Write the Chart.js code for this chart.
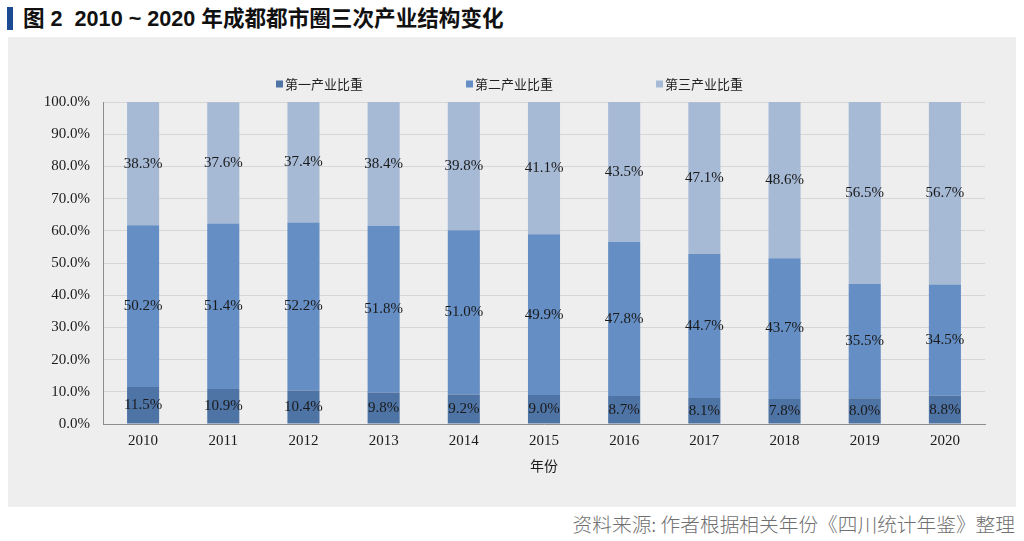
<!DOCTYPE html>
<html>
<head>
<meta charset="utf-8">
<script src="https://cdn.jsdelivr.net/npm/chart.js@4.4.1/dist/chart.umd.min.js"></script>
<style>
  html, body { margin: 0; padding: 0; background: #ffffff; width: 1024px; height: 541px; overflow: hidden; }
  #title { position: absolute; left: 23px; top: 4px; font-family: "Liberation Sans", "Noto Sans CJK SC", sans-serif; font-weight: bold; font-size: 21.6px; color: #111; line-height: 30px; white-space: pre; }
  #bar { position: absolute; left: 7px; top: 7px; width: 6px; height: 23px; background: #1c4b94; }
  #panel { position: absolute; left: 8px; top: 37px; width: 1008px; height: 470px; background: #eeeeee; }
  #source { position: absolute; right: 9px; top: 510px; font-family: "Noto Sans CJK SC", sans-serif; font-size: 19.7px; color: #707070; font-weight: 300; line-height: 27px; white-space: pre; }
</style>
</head>
<body>
<div id="bar"></div>
<div id="title">图 2  2010 ~ 2020 年成都都市圈三次产业结构变化</div>
<div id="panel"><canvas id="c" width="1008" height="470"></canvas></div>
<div id="source">资料来源: 作者根据相关年份《四川统计年鉴》整理</div>
<script>
const categories = ['2010','2011','2012','2013','2014','2015','2016','2017','2018','2019','2020'];
const primary   = [11.5, 10.9, 10.4, 9.8, 9.2, 9.0, 8.7, 8.1, 7.8, 8.0, 8.8];
const secondary = [50.2, 51.4, 52.2, 51.8, 51.0, 49.9, 47.8, 44.7, 43.7, 35.5, 34.5];
const tertiary  = [38.3, 37.6, 37.4, 38.4, 39.8, 41.1, 43.5, 47.1, 48.6, 56.5, 56.7];
const seriesNames = ['第一产业比重', '第二产业比重', '第三产业比重'];
const xTitle = '年份';

const serif = '"Liberation Serif", "Noto Sans CJK SC", serif';
const cjk = '"Noto Sans CJK SC", sans-serif';

const valueLabels = {
  id: 'valueLabels',
  afterDatasetsDraw(chart) {
    const ctx = chart.ctx;
    ctx.save();
    ctx.font = '15px ' + serif;
    ctx.fillStyle = '#1a1a1a';
    ctx.textAlign = 'center';
    ctx.textBaseline = 'middle';
    chart.data.datasets.forEach((ds, i) => {
      const meta = chart.getDatasetMeta(i);
      meta.data.forEach((el, j) => {
        const y = (el.y + el.base) / 2;
        ctx.fillText(ds.data[j].toFixed(1) + '%', el.x, y);
      });
    });
    ctx.restore();
  }
};

const customLegend = {
  id: 'customLegend',
  afterDraw(chart) {
    const ctx = chart.ctx;
    ctx.save();
    ctx.font = '13px ' + cjk;
    ctx.textBaseline = 'middle';
    ctx.textAlign = 'left';
    const gap = 190;
    const startX = 268;
    const y = 47;
    chart.data.datasets.forEach((ds, i) => {
      const x = startX + i * gap;
      ctx.fillStyle = ds.backgroundColor;
      ctx.fillRect(x, y - 3.5, 7, 7);
      ctx.fillStyle = '#222';
      ctx.fillText(ds.label, x + 9, y);
    });
    ctx.restore();
  }
};

new Chart(document.getElementById('c'), {
  type: 'bar',
  data: {
    labels: categories,
    datasets: [
      { label: seriesNames[0], data: primary,   backgroundColor: '#4e73a5' },
      { label: seriesNames[1], data: secondary, backgroundColor: '#648ec4' },
      { label: seriesNames[2], data: tertiary,  backgroundColor: '#a6b9d5' }
    ]
  },
  options: {
    responsive: false,
    animation: false,
    devicePixelRatio: 1,
    layout: { padding: { top: 65, right: 31, bottom: 27, left: 0 } },
    datasets: { bar: { barPercentage: 0.4, categoryPercentage: 1.0 } },
    plugins: {
      legend: { display: false },
      tooltip: { enabled: false }
    },
    scales: {
      x: {
        stacked: true,
        grid: { display: false, drawTicks: false },
        border: { display: true, color: '#8c8c8c', width: 1 },
        ticks: { color: '#1a1a1a', font: { family: serif, size: 15 }, padding: 8, maxRotation: 0 },
        title: { display: true, text: xTitle, color: '#1a1a1a', font: { family: cjk, size: 14 }, padding: { top: 0, bottom: 5.6 } },
        afterFit(scale) { scale.height = 56; }
      },
      y: {
        stacked: true,
        min: 0, max: 100,
        ticks: { stepSize: 10, color: '#1a1a1a', font: { family: serif, size: 15 }, padding: 13,
          callback: v => v.toFixed(1) + '%' },
        grid: { color: '#d6d6d6', drawTicks: false, lineWidth: 1 },
        border: { display: true, color: '#8c8c8c', width: 1 },
        afterFit(scale) { scale.width = 95; }
      }
    }
  },
  plugins: [valueLabels, customLegend]
});
</script>
</body>
</html>
